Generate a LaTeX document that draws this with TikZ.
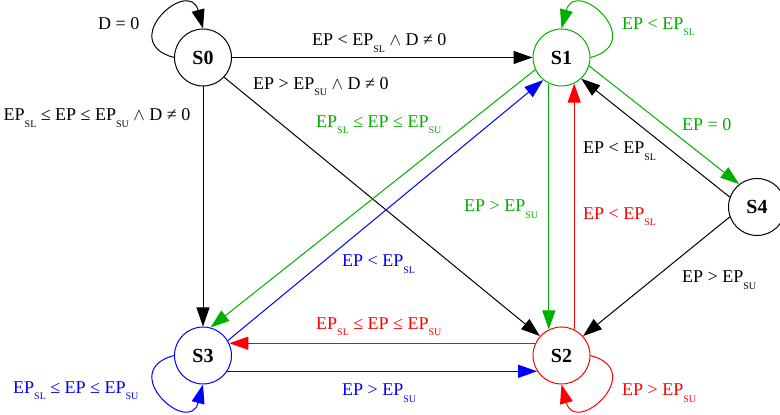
\documentclass[tikz,border=0pt]{standalone}
\usepackage{fontspec}
\setmainfont{Liberation Serif}
\usetikzlibrary{arrows.meta}
\definecolor{stgreen}{RGB}{0,175,0}
\definecolor{stred}{RGB}{255,0,0}
\definecolor{stblue}{RGB}{0,0,255}
\newcommand{\lowsub}[1]{\raisebox{-6.5pt}{\fontsize{10}{10}\selectfont #1}}
\tikzset{
  state/.style={circle,draw,line width=1pt,minimum size=57pt,inner sep=0pt,
    font=\fontsize{20}{20}\selectfont\bfseries},
  trans/.style={-{Triangle[length=19pt,width=13pt]},line width=1pt},
  lbl/.style={inner sep=0pt,anchor=base west,font=\fontsize{18}{18}\selectfont}
}
\begin{document}
\begin{tikzpicture}[x=1pt,y=1pt]
\useasboundingbox (0,0) rectangle (780,415);
\node[state] (S0) at (203,357.5) {S0};
\node[state,draw=stgreen] (S1) at (561.5,357.5) {S1};
\node[state] (S4) at (757,208) {S4};
\node[state,draw=stblue] (S3) at (203,59.5) {S3};
\node[state,draw=stred] (S2) at (561.5,59.5) {S2};
\draw[trans] (S0) -- (S1);
\draw[trans] (S0) -- (S3);
\draw[trans] (S0.-43) -- (S2.138);
\draw[trans] (S0.west) .. controls +(165:60) and +(105:54) .. (S0.north);
\draw[trans,stgreen] (S1.east) .. controls +(15:60) and +(75:54) .. (S1.north);
\draw[trans,stgreen] (S1.-116) -- (S2.116);
\draw[trans,stred] (S2.64) -- (S1.-64);
\draw[trans,stgreen] (S1.205) -- (S3.75);
\draw[trans,stblue] (S3.31) -- (S1.231);
\draw[trans,stgreen] (S1.-17) -- (S4.128);
\draw[trans] (S4.160) -- (S1.-47);
\draw[trans] (S4.200) -- (S2.42);
\draw[trans,stred] (S2.155) -- (S3.25);
\draw[trans,stblue] (S3.-33) -- (S2.213);
\draw[trans,stblue] (S3.west) .. controls +(195:60) and +(255:54) .. (S3.south);
\draw[trans,stred] (S2.east) .. controls +(-15:60) and +(285:54) .. (S2.south);
\node[lbl] (l00) at (98,385) {D = 0};
\node[lbl] (l01) at (312,369) {EP < EP\lowsub{SL} $\wedge$ D ≠ 0};
\node[lbl] (l02) at (253,325.7) {EP > EP\lowsub{SU} $\wedge$ D ≠ 0};
\node[lbl] (l03) at (3.5,294.3) {EP\lowsub{SL} ≤ EP ≤ EP\lowsub{SU} $\wedge$ D ≠ 0};
\node[lbl,text=stgreen] (l11) at (622,385.7) {EP < EP\lowsub{SL}};
\node[lbl,text=stgreen] (l13) at (316,287.7) {EP\lowsub{SL} ≤ EP ≤ EP\lowsub{SU}};
\node[lbl,text=stgreen] (l14) at (682,284.3) {EP = 0};
\node[lbl,text=stgreen] (l12) at (464,203.3) {EP > EP\lowsub{SU}};
\node[lbl] (l41) at (583,261) {EP < EP\lowsub{SL}};
\node[lbl,text=stred] (l21) at (583,195.7) {EP < EP\lowsub{SL}};
\node[lbl,text=stblue] (l31) at (342,148) {EP < EP\lowsub{SL}};
\node[lbl] (l42) at (682,132.3) {EP > EP\lowsub{SU}};
\node[lbl,text=stred] (l23) at (316,85.7) {EP\lowsub{SL} ≤ EP ≤ EP\lowsub{SU}};
\node[lbl,text=stblue] (l32) at (342,19) {EP > EP\lowsub{SU}};
\node[lbl,text=stblue] (l33) at (13,21.7) {EP\lowsub{SL} ≤ EP ≤ EP\lowsub{SU}};
\node[lbl,text=stred] (l22) at (622,19) {EP > EP\lowsub{SU}};
\end{tikzpicture}
\end{document}
